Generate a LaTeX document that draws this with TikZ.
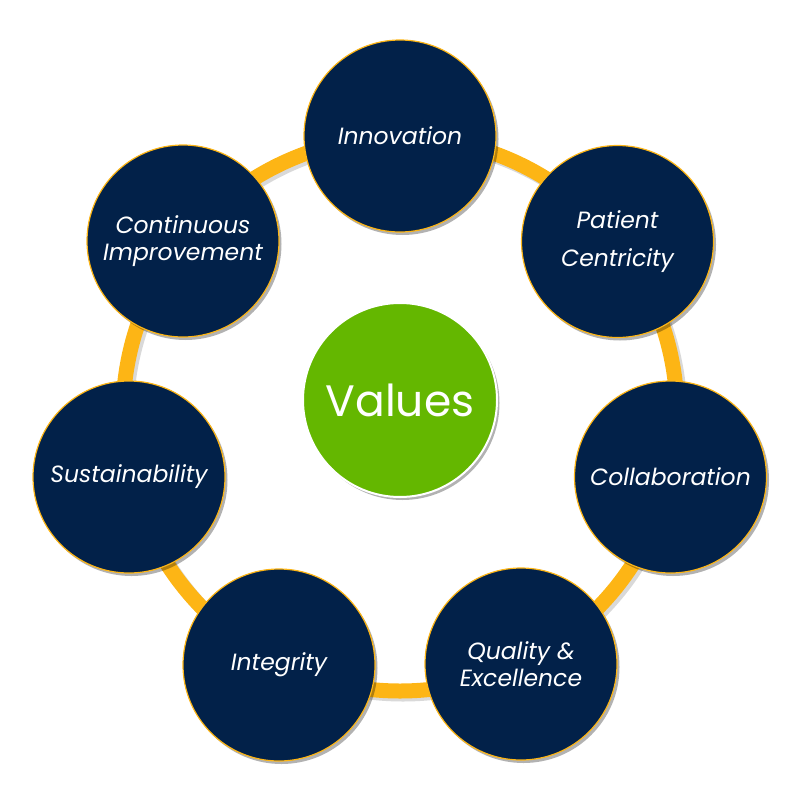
\documentclass[tikz,border=0pt]{standalone}
\usepackage{fontspec}
\setmainfont{Poppins}
\usetikzlibrary{shadows}
\definecolor{navy}{HTML}{022149}
\definecolor{ringc}{HTML}{FDB515}
\definecolor{vgreen}{HTML}{64B700}
\begin{document}
\begin{tikzpicture}[x=1pt,y=-1pt,
  valnode/.style={circle, minimum size=192pt, inner sep=0pt, fill=navy, draw=ringc, line width=1.2pt,
    text=white, align=center, font=\itshape\fontsize{23.5}{27.5}\selectfont,
    drop shadow={shadow xshift=2.5pt, shadow yshift=-3pt, opacity=0.3, fill=black}},
  hubnode/.style={circle, minimum size=194pt, inner sep=0pt, fill=vgreen, draw=white, line width=2pt,
    text=white, font=\fontsize{44}{50}\selectfont,
    drop shadow={shadow xshift=2.5pt, shadow yshift=-3pt, opacity=0.3, fill=black}}]
\useasboundingbox (0,0) rectangle (800,800);
% ring with shadow
\draw[black!25, line width=15pt, opacity=0.6] (403,417) circle (277);
\draw[ringc, line width=15pt] (400,414) circle (277);
\node[valnode] (inn) at (400,136) {Innovation};
\node[valnode] (pat) at (617.5,241.5) {Patient\\[10pt]Centricity};
\node[valnode] (col) at (670.5,477) {Collaboration};
\node[valnode] (qua) at (521,664) {Quality \&\\Excellence};
\node[valnode] (int) at (279,665) {Integrity};
\node[valnode] (sus) at (129,477) {Sustainability};
\node[valnode] (con) at (183,241) {Continuous\\Improvement};
\node[hubnode] (val) at (400,400) {Values};
\end{tikzpicture}
\end{document}
